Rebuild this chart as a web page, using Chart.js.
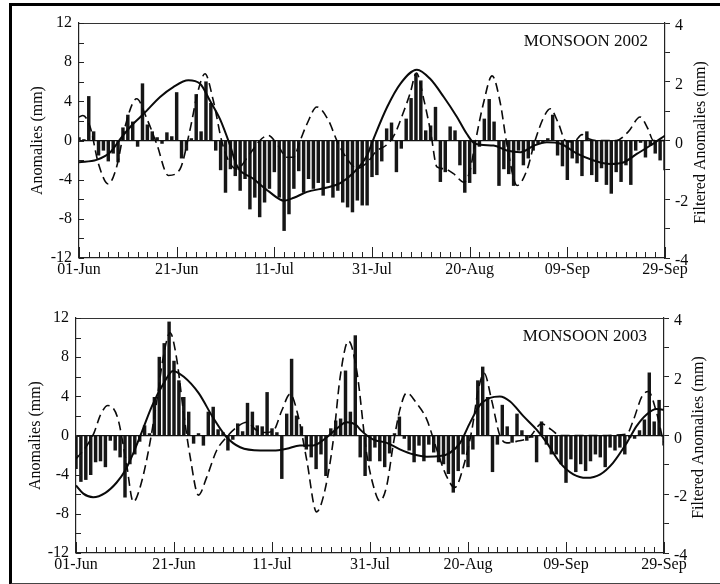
<!DOCTYPE html>
<html>
<head>
<meta charset="utf-8">
<script src="https://cdn.jsdelivr.net/npm/chart.js@4.4.1/dist/chart.umd.min.js"></script>
<style>
  html, body { margin: 0; padding: 0; background: #fff; width: 720px; height: 584px; overflow: hidden; }
  #frame { position: absolute; left: 9px; top: 3px; width: 740px; height: 577px;
           border-left: 3px solid #000; border-top: 3px solid #000; border-bottom: 2px solid #444; }
  canvas { position: absolute; left: 0; }
</style>
</head>
<body>
<canvas id="c1" width="720" height="292" style="top:0"></canvas>
<canvas id="c2" width="720" height="292" style="top:292px"></canvas>
<div id="frame"></div>
<script>
// ---------- DATA ----------
const xTickLabels = ['01-Jun', '21-Jun', '11-Jul', '31-Jul', '20-Aug', '09-Sep', '29-Sep'];
const panelTitles = ['MONSOON 2002', 'MONSOON 2003'];

// daily anomalies (mm), 01-Jun .. 29-Sep (121 days)
const bars2002 = [
  0.3, 0.1, 4.5, 0.9, -1.5, -1.0, -2.1, -1.3, -2.2, 1.3,
  2.6, 1.9, -0.6, 5.8, 1.6, 0.9, 0.3, -0.3, 0.8, 0.4,
  4.9, -1.8, -1.0, 0.2, 4.7, 0.9, 6.0, 3.8, -1.0, -3.0,
  -5.3, -2.9, -3.6, -5.1, -3.9, -7.0, -5.8, -7.8, -6.3, -4.9,
  -3.2, -5.8, -9.2, -7.5, -4.9, -3.1, -5.3, -3.9, -4.9, -4.3,
  -5.6, -4.3, -5.8, -5.1, -6.3, -6.8, -7.3, -6.1, -6.6, -6.6,
  -3.7, -3.5, -2.1, 1.2, 1.8, -3.2, -0.8, 2.2, 4.3, 6.8,
  6.1, 1.0, 1.5, 3.4, -4.2, -3.2, 1.4, 1.0, -2.5, -5.3,
  -4.3, -3.4, -0.6, 2.2, 4.2, 1.9, -4.6, -2.9, -3.4, -4.6,
  -1.0, -2.5, -1.8, -1.0, -0.3, -0.2, 0.2, 2.6, -1.5, -2.6,
  -4.0, -1.8, -2.3, -3.6, 0.9, -3.5, -4.2, -2.8, -4.5, -5.4,
  -3.2, -4.2, -2.5, -4.5, -1.0, -0.2, -1.7, -0.5, -1.3, -2.0,
  -3.0
];
const bars2003 = [
  -3.4, -4.7, -4.5, -4.0, -2.7, -2.6, -3.2, -0.5, -1.5, -2.2,
  -6.3, -2.9, -1.9, -0.6, 1.0, 0.2, 3.9, 8.0, 9.4, 11.6,
  7.6, 5.6, 3.9, 2.4, -0.8, 0.2, -1.0, 2.4, 2.9, 0.6,
  0.3, -1.5, -0.4, 1.2, 0.4, 3.3, 2.4, 1.0, 0.9, 4.4,
  0.7, 0.3, -4.4, 2.2, 7.8, 2.0, 0.9, -1.4, -2.2, -3.4,
  -1.9, -4.1, 0.7, 1.5, 1.7, 6.6, 2.4, 10.2, -2.2, -4.1,
  -2.6, -1.2, -2.6, -3.2, -1.8, 0.2, 1.9, -0.3, -1.5, -2.7,
  -1.0, -2.6, -0.9, -1.7, -2.7, -2.9, -3.9, -5.8, -3.6, -1.9,
  -3.2, -1.4, 5.6, 7.0, 3.9, -3.7, -0.9, 3.1, 0.9, -0.7,
  2.2, 0.5, -0.5, -0.2, -2.7, 1.4, -0.9, -1.9, -1.9, -2.9,
  -4.8, -2.4, -3.7, -2.9, -3.6, -2.6, -1.9, -2.2, -3.2, -1.2,
  -1.5, -1.2, -1.9, -0.2, -0.3, 0.5, 1.6, 6.4, 1.4, 3.6,
  -1.0
];

// filtered anomalies (mm), [day, value]
const solid2002 = [
  [0,-0.74],[3.6,-0.66],[6.4,-0.4],[8.7,0.11],[11.1,0.57],[13.2,0.9],[16.6,1.48],[19.3,1.82],
  [22.4,2.05],[24.8,1.93],[26.8,1.36],[28.9,0.72],[30.9,-0.15],[32.3,-0.85],[35.7,-1.3],[39,-1.75],
  [42,-2.05],[44,-1.95],[46.7,-1.75],[50.8,-1.6],[53.5,-1.45],[56.2,-1.1],[59,-0.5],[60.3,0.05],
  [63.1,1.14],[65.8,1.93],[69.2,2.41],[71.9,2.1],[74.7,1.48],[77.4,0.8],[79.4,0.23],[81.1,-0.11],
  [84.9,-0.17],[87.6,-0.34],[90.4,-0.4],[93.2,-0.17],[95.8,-0.06],[98.6,-0.11],[102,-0.45],
  [105.4,-0.68],[108.8,-0.8],[111.6,-0.74],[114.3,-0.45],[117,-0.17],[120,0.17]
];
const dashed2002 = [
  [0,0.8],[0.8,0.85],[2.3,0.45],[4,-0.8],[6,-1.48],[7.7,-0.9],[9.4,0.45],[11.8,1.42],[13.9,0.74],
  [15.9,-0.11],[18.3,-1.19],[20.7,-0.97],[22.7,0.34],[24.4,1.7],[25.8,2.27],[27.5,1.36],[29.2,0],
  [30.6,-0.68],[32.3,-0.97],[35,-0.45],[37.4,0.06],[38.8,0.17],[40.5,-0.11],[42.6,-0.57],[43.9,-0.57],
  [45.3,0],[46.7,0.57],[48.7,1.14],[51.1,0.68],[52.8,0],[54.8,-0.6],[57,-0.95],[59,-0.75],[61,-0.35],
  [63,-0.15],[64.6,0.2],[66.3,0.9],[67.8,1.6],[69.1,2.3],[70.6,1.4],[72,0.3],[73.3,-0.9],[74.7,-0.96],
  [76.7,-1.13],[78.8,-1.42],[80.1,-1.0],[81.1,-0.11],[82.8,1.25],[84.6,2.2],[86.3,1.25],[87.6,-0.11],
  [89.7,-1.53],[91.7,-1.02],[93.4,0],[95.2,0.8],[96.5,1.08],[98.2,0.57],[99.6,0],[101.3,-0.05],
  [103,0.2],[104.5,0.05],[106,0],[110,0],[112.5,0.3],[114.9,0.8],[116.5,0.4],[117.6,0],[120,0]
];
const solid2003 = [
  [0,-1.7],[1.5,-1.98],[3.5,-2.1],[6,-1.95],[8.3,-1.6],[10,-1.2],[11.7,-0.6],[13.5,0.15],[15.5,1.0],
  [17.8,1.75],[19.8,2.2],[22,2.0],[25,1.45],[28,0.6],[30.7,-0.05],[33.5,-0.4],[37.6,-0.51],[40.3,-0.51],
  [43,-0.45],[45.7,-0.34],[48.4,-0.34],[51.2,-0.06],[53.2,0.23],[55.2,0.45],[57.3,0.34],[58,0.2],
  [60.7,-0.14],[63.4,-0.25],[66.1,-0.47],[68.8,-0.64],[71.6,-0.72],[74.3,-0.7],[76.3,-0.59],[78.4,-0.25],
  [80.4,0.43],[82.5,1.05],[84.5,1.28],[86.5,1.33],[88.6,1.16],[91.3,0.66],[94,0.2],[96.1,-0.25],
  [98.8,-0.93],[101.5,-1.32],[104.2,-1.44],[107,-1.32],[109.6,-0.93],[112.4,-0.25],[114.4,0.32],
  [116.4,0.71],[118.5,0.9],[120,0.88]
];
const dashed2003 = [
  [0,-0.8],[2,-0.4],[3.7,0.1],[5,0.7],[6.5,1.02],[8.5,0.6],[10.3,-0.96],[11.7,-2.26],[13.1,-1.75],
  [14.8,-0.51],[16.5,1.19],[17.8,2.66],[19.2,3.5],[20.5,2.66],[21.9,0.85],[23.3,-0.73],[25,-2.03],
  [26.7,-1.41],[28.7,-0.51],[30.7,-0.06],[32.8,0.28],[34.8,0.45],[36.9,0.17],[38.5,0.1],[40.3,0.17],
  [42,0.85],[43.7,1.41],[45.4,0.62],[47.1,-0.85],[49.1,-2.6],[50.8,-1.86],[52.5,-0.17],[53.9,1.98],
  [55.6,3.22],[57.3,2.2],[59.3,-0.59],[60.7,-1.72],[62,-2.23],[63.4,-1.72],[64.8,-0.25],[66.1,0.88],
  [67.5,1.45],[69.5,1.1],[71.6,0.54],[73.6,-0.47],[75.6,-1.38],[77.3,-1.77],[79.1,-1.04],[80.8,0.2],
  [82.1,1.56],[83.3,2.12],[84.8,1.22],[86.5,0],[87.9,-0.25],[89.9,-0.2],[92.6,-0.05],[95,0.4],[97,0.2],
  [98.8,0],[105,0],[112.4,0.05],[113.7,0.5],[115.5,1.33],[116.8,1.5],[118.5,0.77],[119.8,-0.14],[120,-0.25]
];

// ---------- CHART ----------
const FONT = "'Liberation Serif', 'DejaVu Serif', 'Times New Roman', serif";
const INK = '#0a0a0a';

function decor(title, titleY, leftTitleX, rightTitleX) {
  return {
    id: 'decor',
    afterDraw(chart) {
      const ctx = chart.ctx, a = chart.chartArea;
      const xs = chart.scales.x, ys = chart.scales.y;
      ctx.save();
      // plot box top edge
      ctx.strokeStyle = '#333'; ctx.lineWidth = 1;
      ctx.beginPath();
      ctx.moveTo(a.left, a.top + 0.5); ctx.lineTo(a.right, a.top + 0.5);
      ctx.stroke();
      // inside ticks, bottom axis
      ctx.strokeStyle = '#222'; ctx.lineWidth = 1;
      for (let d = 0; d <= 120; d += 2) {
        const px = Math.round(xs.getPixelForValue(d)) + 0.5;
        const len = (d % 20 === 0) ? 11 : 6;
        ctx.beginPath(); ctx.moveTo(px, a.bottom); ctx.lineTo(px, a.bottom - len); ctx.stroke();
      }
      // inside ticks, left axis
      for (let v = -12; v <= 12; v += 2) {
        const py = Math.round(ys.getPixelForValue(v)) + 0.5;
        ctx.beginPath(); ctx.moveTo(a.left, py); ctx.lineTo(a.left + 5, py); ctx.stroke();
      }
      // panel label
      ctx.fillStyle = INK;
      ctx.font = '17px ' + FONT;
      ctx.textAlign = 'right'; ctx.textBaseline = 'middle';
      ctx.fillText(title, a.right - 17, titleY);
      // axis titles (both read bottom to top)
      ctx.font = '16px ' + FONT;
      const cy = (a.top + a.bottom) / 2;
      ctx.textAlign = 'center';
      ctx.save(); ctx.translate(leftTitleX, cy); ctx.rotate(-Math.PI / 2);
      ctx.fillText('Anomalies (mm)', 0, 0); ctx.restore();
      ctx.save(); ctx.translate(rightTitleX, cy + 2); ctx.rotate(-Math.PI / 2);
      ctx.fillText('Filtered Anomalies (mm)', 0, 0); ctx.restore();
      ctx.restore();
    }
  };
}

function makeChart(id, bars, solid, dashed, geo) {
  const barData = bars.map((v, i) => ({ x: i, y: v }));
  const toXY = arr => arr.map(p => ({ x: p[0], y: p[1] }));
  return new Chart(document.getElementById(id), {
    type: 'bar',
    data: {
      datasets: [
        { type: 'line', data: toXY(solid), yAxisID: 'y2', borderColor: INK, borderWidth: 2,
          pointRadius: 0, cubicInterpolationMode: 'monotone', fill: false, order: 0 },
        { type: 'line', data: toXY(dashed), yAxisID: 'y2', borderColor: INK, borderWidth: 1.6,
          borderDash: [9, 5], pointRadius: 0, cubicInterpolationMode: 'monotone', fill: false, order: 1 },
        { type: 'bar', data: barData, yAxisID: 'y', backgroundColor: '#161616',
          barThickness: 2.8, order: 2 }
      ]
    },
    options: {
      responsive: false, animation: false,
      layout: { padding: { top: geo.top, left: 0, right: 0, bottom: 0 } },
      plugins: { legend: { display: false }, tooltip: { enabled: false } },
      scales: {
        x: {
          type: 'linear', min: 0, max: 120, offset: false,
          afterFit: s => { s.height = geo.xh; },
          grid: { display: false, drawTicks: false },
          border: { display: true, color: '#222', width: 1.2 },
          ticks: { stepSize: 20, padding: 2, color: INK, maxRotation: 0, autoSkip: false,
                   font: { family: FONT, size: 16 },
                   callback: v => xTickLabels[Math.round(v / 20)] }
        },
        y: {
          position: 'left', min: -12, max: 12,
          afterFit: s => { s.width = geo.yw; },
          grid: { display: true, drawTicks: false, drawOnChartArea: true,
                  color: c => (c.tick && c.tick.value === 0) ? '#111' : 'rgba(0,0,0,0)', lineWidth: 1.2 },
          border: { display: true, color: '#222', width: 1.2 },
          ticks: { stepSize: 4, padding: 7, color: INK, font: { family: FONT, size: 16 } }
        },
        y2: {
          position: 'right', min: -4, max: 4,
          afterFit: s => { s.width = geo.y2w; },
          grid: { display: true, drawOnChartArea: false, drawTicks: true, tickLength: 5, color: '#222' },
          border: { display: true, color: '#222', width: 1.2 },
          ticks: { stepSize: 1, padding: 5, labelOffset: 3, color: INK, font: { family: FONT, size: 16 },
                   callback: v => (v % 2 === 0 ? String(v) : '') }
        }
      }
    },
    plugins: [decor(geo.title, geo.titleY, geo.ltx, geo.rtx)]
  });
}

makeChart('c1', bars2002, solid2002, dashed2002,
  { top: 23, xh: 34, yw: 79, y2w: 55, title: panelTitles[0], titleY: 42, ltx: 38, rtx: 701 });
makeChart('c2', bars2003, solid2003, dashed2003,
  { top: 26, xh: 31, yw: 76, y2w: 56, title: panelTitles[1], titleY: 45, ltx: 36, rtx: 699 });
</script>
</body>
</html>
